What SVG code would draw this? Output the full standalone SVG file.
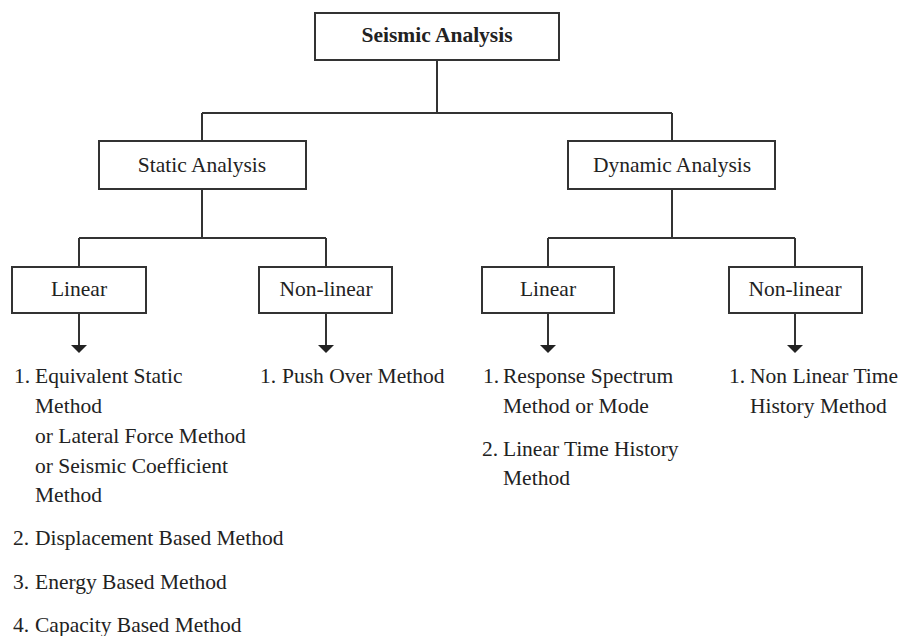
<svg xmlns="http://www.w3.org/2000/svg" width="902" height="636" viewBox="0 0 902 636">
<defs>
<style>
.box{fill:#fff;stroke:#333;stroke-width:2}
.ln{fill:none;stroke:#333;stroke-width:2}
.t{font-family:"Liberation Serif","Times New Roman",serif;font-size:21.5px;fill:#222}
.c{text-anchor:middle}
.b{font-weight:bold}
</style>
<marker id="ah" viewBox="0 0 16 8" markerWidth="16" markerHeight="8" refX="8" refY="8" orient="auto-start-reverse" markerUnits="userSpaceOnUse">
<path d="M0,0 L16,0 L8,8 Z" fill="#222"/>
</marker>
</defs>
<rect width="902" height="636" fill="#fff"/>
<g id="connectors">
<path class="ln" d="M437,60 V113 M202,113 H672 M202,113 V141 M672,113 V141"/>
<path class="ln" d="M202,189 V238 M79,238 H326 M79,238 V267 M326,238 V267"/>
<path class="ln" d="M672,189 V238 M548,238 H795 M548,238 V267 M795,238 V267"/>
<path d="M79,313 V346" class="ln"/>
<path d="M326,313 V346" class="ln"/>
<path d="M548,313 V346" class="ln"/>
<path d="M795,313 V346" class="ln"/>
<path d="M71,345 H87 L79,353 Z M318,345 H334 L326,353 Z M540,345 H556 L548,353 Z M787,345 H803 L795,353 Z" fill="#222"/>
</g>
<g id="seismic">
<rect class="box" x="315" y="13" width="244" height="47"/>
<text class="t c b" x="437" y="42">Seismic Analysis</text>
</g>
<g id="static">
<rect class="box" x="99" y="141" width="207" height="48"/>
<text class="t c" x="202" y="172">Static Analysis</text>
</g>
<g id="dynamic">
<rect class="box" x="568" y="141" width="207" height="48"/>
<text class="t c" x="672" y="172">Dynamic Analysis</text>
</g>
<g id="static-linear">
<rect class="box" x="12" y="267" width="134" height="46"/>
<text class="t c" x="79" y="296">Linear</text>
</g>
<g id="static-nonlinear">
<rect class="box" x="259" y="267" width="133" height="46"/>
<text class="t c" x="326" y="296">Non-linear</text>
</g>
<g id="dynamic-linear">
<rect class="box" x="482" y="267" width="132" height="46"/>
<text class="t c" x="548" y="296">Linear</text>
</g>
<g id="dynamic-nonlinear">
<rect class="box" x="729" y="267" width="133" height="46"/>
<text class="t c" x="795" y="296">Non-linear</text>
</g>
<g id="static-linear-list" class="t">
<text x="14" y="383">1.</text><text x="35" y="383">Equivalent Static</text>
<text x="35" y="413">Method</text>
<text x="35" y="443">or Lateral Force Method</text>
<text x="35" y="473">or Seismic Coefficient</text>
<text x="35" y="502">Method</text>
<text x="13" y="545">2.</text><text x="35" y="545">Displacement Based Method</text>
<text x="13" y="589">3.</text><text x="35" y="589">Energy Based Method</text>
<text x="13" y="632">4.</text><text x="35" y="632">Capacity Based Method</text>
</g>
<g id="static-nonlinear-list" class="t">
<text x="260" y="383">1.</text><text x="282" y="383">Push Over Method</text>
</g>
<g id="dynamic-linear-list" class="t">
<text x="483" y="383">1.</text><text x="503" y="383">Response Spectrum</text>
<text x="503" y="413">Method or Mode</text>
<text x="482" y="456">2.</text><text x="503" y="456">Linear Time History</text>
<text x="503" y="485">Method</text>
</g>
<g id="dynamic-nonlinear-list" class="t">
<text x="729" y="383">1.</text><text x="750" y="383">Non Linear Time</text>
<text x="750" y="413">History Method</text>
</g>
</svg>
